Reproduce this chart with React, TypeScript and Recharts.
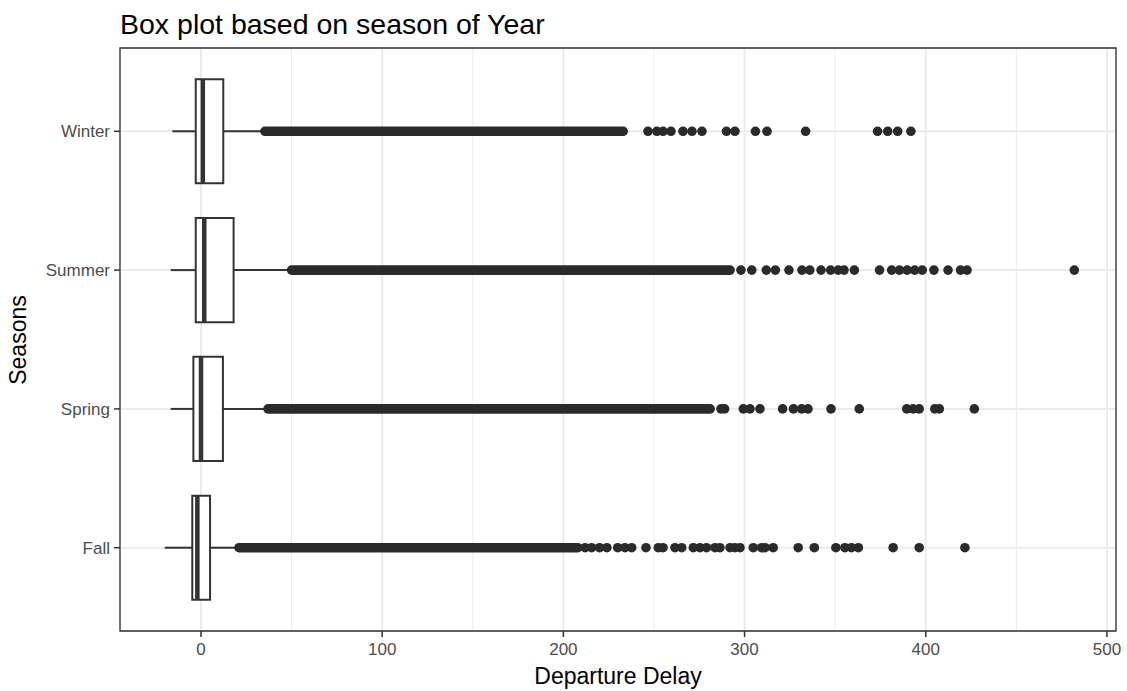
import React from "react"
import {
  ScatterChart,
  Scatter,
  XAxis,
  YAxis,
  CartesianGrid,
  ReferenceArea,
  ReferenceLine,
} from "recharts"

// seasons bottom to top (y = 1..4)
const seasons = ["Fall", "Spring", "Summer", "Winter"]

// box stats
const whiskerLow = [-20, -16.7, -16.7, -15.8]
const q1 = [-4.8, -4.2, -2.9, -2.9]
const median = [-2, 0, 1.8, 1]
const q3 = [5, 12.1, 18, 12.3]
const whiskerHigh = [20, 36.6, 49.5, 35]

// runs where the outliers overlap into a solid band
const denseStart = [21, 37, 50, 35.3]
const denseEnd = [208, 281, 292, 233]

// separate outliers
const fallOutliers = [
  212, 215.6, 220, 224, 230, 234, 237.7, 245.6, 252.4, 255, 261.6, 265.3, 271.7,
  275.4, 279, 283.7, 286.4, 292, 294.7, 297.5, 304.8, 309.4, 311.3, 315.8,
  329.6, 338.5, 350.4, 355.4, 359, 362.8, 382, 396.4, 421.6,
]
const springOutliers = [
  287, 289, 299.3, 303, 308.5, 321, 327, 331.5, 335, 347.7, 363.3, 389.5, 393,
  396.4, 405, 407.5, 426.8,
]
const summerOutliers = [
  298, 304, 312, 317, 324.5, 331.7, 336, 342.2, 347.5, 351.7, 354.9, 360.6,
  374.5, 381.2, 385.5, 389.7, 393.9, 398.1, 404.5, 412.3, 419.2, 422.8, 482,
]
const winterOutliers = [
  246.7, 251.6, 255, 259.4, 266, 271, 276.5, 290, 294.7, 306, 312.4, 333.7,
  373.4, 379, 384.5, 391.8,
]

const xTicks = [0, 100, 200, 300, 400, 500]
const xMinorTicks = [50, 150, 250, 350, 450]
const yTicks = [1, 2, 3, 4]

const xDomain: [number, number] = [-44.7, 505]
const yDomain: [number, number] = [0.4, 4.6]
const halfBox = 0.375
const ink = "#333333"
const dotInk = "#2a2a2a"

const outlierData = [fallOutliers, springOutliers, summerOutliers, winterOutliers].flatMap(
  (list, i) => list.map((x) => ({ x, y: i + 1 }))
)

const font = "'Liberation Sans', Arial, Helvetica, sans-serif"

export default function App() {
  return (
    <div style={{ position: "relative", width: 1127, height: 691, fontFamily: font, background: "#fff" }}>
      <style>{"body{margin:0}"}</style>
      <div
        style={{
          position: "absolute",
          left: 120,
          top: 10,
          fontSize: 28.5,
          lineHeight: 1,
          color: "#000",
          whiteSpace: "nowrap",
        }}
      >
        Box plot based on season of Year
      </div>
      <ScatterChart
        width={1127}
        height={691}
        margin={{ top: 48, right: 11, bottom: 0, left: 0 }}
        style={{ fontFamily: font }}
      >
        <CartesianGrid stroke="#EBEBEB" strokeWidth={2} />
        <CartesianGrid xAxisId="minor" stroke="#EBEBEB" strokeWidth={1} horizontal={false} />
        <XAxis
          xAxisId="minor"
          type="number"
          dataKey="x"
          domain={xDomain}
          ticks={xMinorTicks}
          allowDataOverflow
          hide
        />
        <XAxis
          type="number"
          dataKey="x"
          domain={xDomain}
          ticks={xTicks}
          interval={0}
          allowDataOverflow
          height={60}
          axisLine={false}
          tickSize={6}
          tickMargin={6}
          tickLine={{ stroke: ink, strokeWidth: 1.5 }}
          tick={{ fill: "#4D4D4D", fontSize: 17 }}
        />
        <YAxis
          type="number"
          dataKey="y"
          domain={yDomain}
          ticks={yTicks}
          interval={0}
          allowDataOverflow
          width={120}
          axisLine={false}
          tickSize={6}
          tickMargin={4}
          tickLine={{ stroke: ink, strokeWidth: 1.5 }}
          tick={{ fill: "#4D4D4D", fontSize: 17 }}
          tickFormatter={(v: number) => seasons[v - 1]}
        />
        {seasons.map((s, i) => (
          <ReferenceLine
            key={"wl" + s}
            segment={[
              { x: whiskerLow[i], y: i + 1 },
              { x: q1[i], y: i + 1 },
            ]}
            stroke={ink}
            strokeWidth={2}
          />
        ))}
        {seasons.map((s, i) => (
          <ReferenceLine
            key={"wh" + s}
            segment={[
              { x: q3[i], y: i + 1 },
              { x: whiskerHigh[i], y: i + 1 },
            ]}
            stroke={ink}
            strokeWidth={2}
          />
        ))}
        {seasons.map((s, i) => (
          <ReferenceArea
            key={"box" + s}
            x1={q1[i]}
            x2={q3[i]}
            y1={i + 1 - halfBox}
            y2={i + 1 + halfBox}
            fill="#ffffff"
            fillOpacity={1}
            stroke={ink}
            strokeWidth={2}
          />
        ))}
        {seasons.map((s, i) => (
          <ReferenceLine
            key={"med" + s}
            segment={[
              { x: median[i], y: i + 1 - halfBox },
              { x: median[i], y: i + 1 + halfBox },
            ]}
            stroke={ink}
            strokeWidth={4.5}
          />
        ))}
        {seasons.map((s, i) => (
          <ReferenceLine
            key={"dense" + s}
            segment={[
              { x: denseStart[i], y: i + 1 },
              { x: denseEnd[i], y: i + 1 },
            ]}
            stroke={dotInk}
            strokeWidth={9.6}
            strokeLinecap="round"
          />
        ))}
        <ReferenceArea
          x1={xDomain[0]}
          x2={xDomain[1]}
          y1={yDomain[0]}
          y2={yDomain[1]}
          fill="none"
          fillOpacity={0}
          stroke={ink}
          strokeWidth={1.3}
          ifOverflow="visible"
        />
        <Scatter
          data={outlierData}
          isAnimationActive={false}
          shape={(p: any) => <circle cx={p.cx} cy={p.cy} r={4.8} fill={dotInk} />}
        />
      </ScatterChart>
      <div
        style={{
          position: "absolute",
          left: 120,
          width: 996,
          top: 665,
          textAlign: "center",
          fontSize: 23,
          lineHeight: 1,
          color: "#000",
        }}
      >
        Departure Delay
      </div>
      <div
        style={{
          position: "absolute",
          left: 18,
          top: 339.5,
          transform: "translate(-50%, -50%) rotate(-90deg)",
          fontSize: 23,
          lineHeight: 1,
          color: "#000",
          whiteSpace: "nowrap",
        }}
      >
        Seasons
      </div>
    </div>
  )
}
